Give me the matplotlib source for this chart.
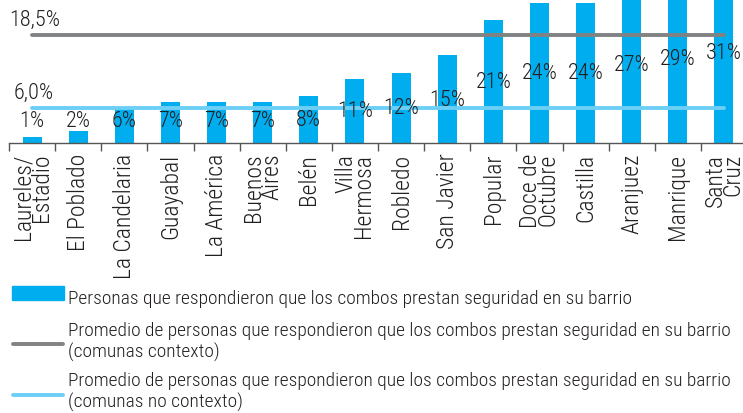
import matplotlib.pyplot as plt
from matplotlib.patches import Rectangle
from matplotlib.lines import Line2D

# Comunas and share of people saying "combos" provide security (%)
comunas = ["Laureles/\nEstadio", "El Poblado", "La Candelaria", "Guayabal",
           "La América", "Buenos\nAires", "Belén", "Villa\nHermosa", "Robledo",
           "San Javier", "Popular", "Doce de\nOctubre", "Castilla", "Aranjuez",
           "Manrique", "Santa\nCruz"]
valores = [1, 2, 6, 7, 7, 7, 8, 11, 12, 15, 21, 24, 24, 27, 29, 31]
promedio_contexto = 18.5
promedio_no_contexto = 6.0

BAR = '#00AEEF'
GRAY = '#818284'
LIGHT = '#6DCFF6'
TEXT = '#231F20'
FONT = ['Roboto Condensed', 'DejaVu Sans']

plt.rcParams['font.family'] = FONT
plt.rcParams['font.weight'] = 'light'

W, H = 743, 414
fig = plt.figure(figsize=(W / 100, H / 100), dpi=100)
ax = fig.add_axes([9 / W, 1 - 144 / H, 738 / W, 144 / H])

x = list(range(len(valores)))
ax.bar(x, valores, width=0.41, color=BAR, zorder=2)
ax.plot([x[0], x[-1]], [promedio_contexto] * 2, color=GRAY, lw=2.8,
        solid_capstyle='round', zorder=3)
ax.plot([x[0], x[-1]], [promedio_no_contexto] * 2, color=LIGHT, lw=2.8,
        solid_capstyle='round', zorder=3)

for xi, v in zip(x, valores):
    ax.text(xi, max(v / 2, 3.8), f"{v}%", ha='center', va='center',
            fontsize=16, color=TEXT, zorder=4)

ax.text(-0.5, promedio_contexto + 0.9, "18,5%", ha='left', va='bottom',
        fontsize=16, color=TEXT)
ax.text(-0.4, promedio_no_contexto + 0.9, "6,0%", ha='left', va='bottom',
        fontsize=16, color=TEXT)

ax.set_xlim(-0.5, len(valores) - 0.5)
ax.set_ylim(0, 24.66)
ax.set_yticks([])
for s in ['top', 'right', 'left']:
    ax.spines[s].set_visible(False)
ax.spines['bottom'].set_color('#555555')
ax.spines['bottom'].set_linewidth(1.0)

ax.set_xticks([i - 0.5 for i in range(len(valores) + 1)])
ax.set_xticklabels([])
ax.set_xticks(x, minor=True)
ax.set_xticklabels(comunas, minor=True, rotation=90, fontsize=17,
                   color=TEXT, va='top', ha='center')
ax.tick_params(axis='x', which='major', length=6, width=1, color='#555555')
ax.tick_params(axis='x', which='minor', length=0, pad=7)
for t in ax.get_xticklabels(minor=True):
    t.set_linespacing(0.72)
    t.set_multialignment('right')

# legend drawn by hand
def fx(px):
    return px / W

def fy(py):
    return 1 - py / H

fig.patches.append(Rectangle((fx(12), fy(301)), fx(52), 14 / H, color=BAR,
                             transform=fig.transFigure, figure=fig))
fig.lines.append(Line2D([fx(13), fx(63)], [fy(345)] * 2, color=GRAY, lw=2.8,
                        solid_capstyle='round', transform=fig.transFigure))
fig.lines.append(Line2D([fx(13), fx(63)], [fy(396)] * 2, color=LIGHT, lw=2.8,
                        solid_capstyle='round', transform=fig.transFigure))

leg_txt = "Personas que respondieron que los combos prestan seguridad en su barrio"
prom = "Promedio de personas que respondieron que los combos prestan seguridad en su barrio"
LS = 14
fig.text(fx(68), fy(299), leg_txt, ha='left', va='center', fontsize=LS, color=TEXT)
fig.text(fx(68), fy(331), prom, ha='left', va='center', fontsize=LS, color=TEXT)
fig.text(fx(68), fy(352), "(comunas contexto)", ha='left', va='center',
         fontsize=LS, color=TEXT)
fig.text(fx(68), fy(381), prom, ha='left', va='center', fontsize=LS, color=TEXT)
fig.text(fx(68), fy(402), "(comunas no contexto)", ha='left', va='center',
         fontsize=LS, color=TEXT)

fig.savefig("out.png", dpi=100)
